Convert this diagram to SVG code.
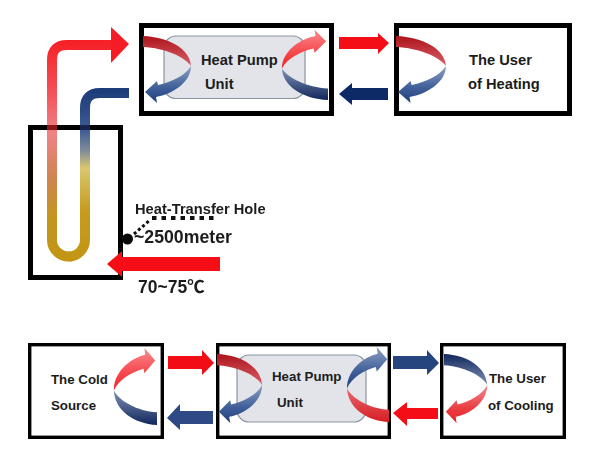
<svg xmlns="http://www.w3.org/2000/svg" width="591" height="463" viewBox="0 0 591 463">
<style>
.box{fill:#fff;stroke:#000;stroke-width:5}
.thin{stroke-width:3.4}
.core{fill:#e2e4e9;stroke:#8a95a3;stroke-width:1.2}
text{font-family:"Liberation Sans",Arial,"Noto Sans CJK SC",sans-serif;font-weight:bold;fill:#1c1c1c;font-size:14.700px}
.sm{font-size:13.300px}
.pipe{fill:none;stroke-width:10}
.soft{filter:url(#soft)}
</style>
<defs>
<filter id="soft" x="-10%" y="-10%" width="120%" height="120%"><feGaussianBlur stdDeviation="0.5"/></filter>
<linearGradient id="redTail" x1="0" y1="0" x2="0" y2="1"><stop offset="0" stop-color="#ad141c"/><stop offset="1" stop-color="#d85f66"/></linearGradient>
<linearGradient id="redHead" x1="0" y1="1" x2="0" y2="0"><stop offset="0" stop-color="#f98a8c"/><stop offset="0.6" stop-color="#f5474c"/><stop offset="1" stop-color="#f42127"/></linearGradient>
<linearGradient id="blueHead" x1="0" y1="0" x2="0" y2="1"><stop offset="0" stop-color="#8d9fc2"/><stop offset="0.6" stop-color="#3f5e98"/><stop offset="1" stop-color="#1e3f7e"/></linearGradient>
<linearGradient id="blueHeadUp" x1="0" y1="1" x2="0" y2="0"><stop offset="0" stop-color="#8d9fc2"/><stop offset="0.6" stop-color="#3f5e98"/><stop offset="1" stop-color="#1e3f7e"/></linearGradient>
<linearGradient id="blueTail" x1="0" y1="0" x2="0" y2="1"><stop offset="0" stop-color="#12275c"/><stop offset="1" stop-color="#7e91b4"/></linearGradient>
<linearGradient id="redDown" x1="0" y1="0" x2="0" y2="1"><stop offset="0" stop-color="#f28a8c"/><stop offset="0.6" stop-color="#ea3f44"/><stop offset="1" stop-color="#e82127"/></linearGradient>
<linearGradient id="redUpTail" x1="0" y1="0" x2="0" y2="1"><stop offset="0" stop-color="#d81c24"/><stop offset="1" stop-color="#e46a6e"/></linearGradient>
<linearGradient id="hot" gradientUnits="userSpaceOnUse" x1="0" y1="40" x2="0" y2="262"><stop offset="0" stop-color="#f51f25"/><stop offset="0.2" stop-color="#f44a50"/><stop offset="0.42" stop-color="#f08286"/><stop offset="0.62" stop-color="#cf8550"/><stop offset="0.8" stop-color="#c4951f"/><stop offset="1" stop-color="#c29515"/></linearGradient>
<linearGradient id="cold" gradientUnits="userSpaceOnUse" x1="0" y1="88" x2="0" y2="262"><stop offset="0" stop-color="#1b3a78"/><stop offset="0.24" stop-color="#3c5c94"/><stop offset="0.36" stop-color="#7f8c9c"/><stop offset="0.46" stop-color="#d9c76f"/><stop offset="0.7" stop-color="#c69c20"/><stop offset="1" stop-color="#c29515"/></linearGradient>
<path id="tailPiece" d="M0,0C26,1 47,13 48,30C42,21 22,12 0,11Z"/>
<path id="headPiece" d="M48,30C48,46 30,58 13,61L14,67L2,56L14,45L15,49C29,46 43,39 48,30Z"/>
</defs>
<rect width="591" height="463" fill="#fff"/>

<g id="source-hole">
<rect class="box" x="30.500" y="127.500" width="90" height="150"/>
</g>
<g id="heat-pump-top">
<rect class="box" x="141.500" y="25.500" width="190" height="88"/>
<rect class="core" x="164" y="36" width="141" height="62.500" rx="12"/>
<text x="201" y="65">Heat Pump</text>
<text x="205" y="89">Unit</text>
</g>
<g id="user-heating">
<rect class="box" x="396.500" y="25.500" width="173" height="88"/>
<text x="469" y="65">The User</text>
<text x="468" y="89">of Heating</text>
</g>
<g id="cold-source">
<rect class="box thin" x="29.700" y="344.700" width="132.600" height="92.600"/>
<text class="sm" x="51" y="384">The Cold</text>
<text class="sm" x="51" y="410">Source</text>
</g>
<g id="heat-pump-bottom">
<rect class="box thin" x="217.700" y="344.700" width="171.600" height="92.600"/>
<rect class="core" x="237" y="355" width="129" height="67" rx="12"/>
<text class="sm" x="272" y="381">Heat Pump</text>
<text class="sm" x="277" y="407">Unit</text>
</g>
<g id="user-cooling">
<rect class="box thin" x="441.700" y="344.700" width="122.600" height="92.600"/>
<text class="sm" x="489" y="383">The User</text>
<text class="sm" x="488" y="410">of Cooling</text>
</g>

<g id="connectors">
<g class="soft">
<path class="pipe" stroke="url(#hot)" d="M114,45H67Q52,45 52,60V240A16.500,16.500 0 0 0 71.370,256.250"/>
<path class="pipe" stroke="url(#cold)" d="M68.500,256.500A16.500,16.500 0 0 0 85,240V108Q85,93 100,93H129"/>
<rect x="47" y="125" width="10" height="5" fill="#8a1418"/>
<rect x="80" y="125" width="10" height="5" fill="#14244f"/>
<path fill="#f51f25" d="M111,27L129,44L111,63Z"/>

<path fill="#f40f16" d="M339,37H378V33L389,43L378,54V49H339Z"/>
<path fill="#0f2a66" d="M339,94L352,83V88H388V100H352V105Z"/>
<path fill="#f60f14" d="M107,264L122,251V257H220V271H122V277Z"/>
<path fill="#f20f15" d="M168,356H202V350L214,363L202,375V369H168Z"/>
<path fill="#2d4a85" d="M167,418L180,404V411H213V424H180V430Z"/>
<path fill="#27447f" d="M393,356H427V350L439,363L427,375V369H393Z"/>
<path fill="#f40f15" d="M393,413L407,402V408H438V419H407V426Z"/>

<g transform="translate(143,36)"><use href="#tailPiece" fill="url(#redTail)"/><use href="#headPiece" fill="url(#blueHead)"/></g>
<g transform="translate(396,36) scale(1.04,1)"><use href="#tailPiece" fill="url(#redTail)"/><use href="#headPiece" fill="url(#blueHead)"/></g>
<g transform="translate(328,100) scale(-0.96,-1.05)"><use href="#tailPiece" fill="url(#blueTail)"/><use href="#headPiece" fill="url(#redHead)"/></g>
<g transform="translate(157,425) scale(-0.9,-1.15)"><use href="#tailPiece" fill="url(#blueTail)"/><use href="#headPiece" fill="url(#redHead)"/></g>
<g transform="translate(217,354) scale(0.94,1.03)"><use href="#tailPiece" fill="url(#redTail)"/><use href="#headPiece" fill="url(#blueHead)"/></g>
<g transform="translate(389,422) scale(-0.875,-1.12)"><use href="#tailPiece" fill="url(#redUpTail)"/><use href="#headPiece" fill="url(#blueHeadUp)"/></g>
<g transform="translate(444,354) scale(0.9,1.03)"><use href="#tailPiece" fill="url(#blueTail)"/><use href="#headPiece" fill="url(#redDown)"/></g>
</g>
<path d="M152,218H218" fill="none" stroke="#111" stroke-width="4" stroke-dasharray="4.500 5"/>
<path d="M134,234L150,220" fill="none" stroke="#111" stroke-width="3" stroke-dasharray="3 2.500"/>
<circle cx="127.500" cy="239" r="5.500" fill="#0a0a0a"/>
</g>

<g id="labels">
<text x="135" y="214">Heat-Transfer Hole</text>
<text x="134" y="243" style="font-size:17.700px">~2500meter</text>
<text x="138" y="293" style="font-size:17.500px">70~75℃</text>
</g>
</svg>
